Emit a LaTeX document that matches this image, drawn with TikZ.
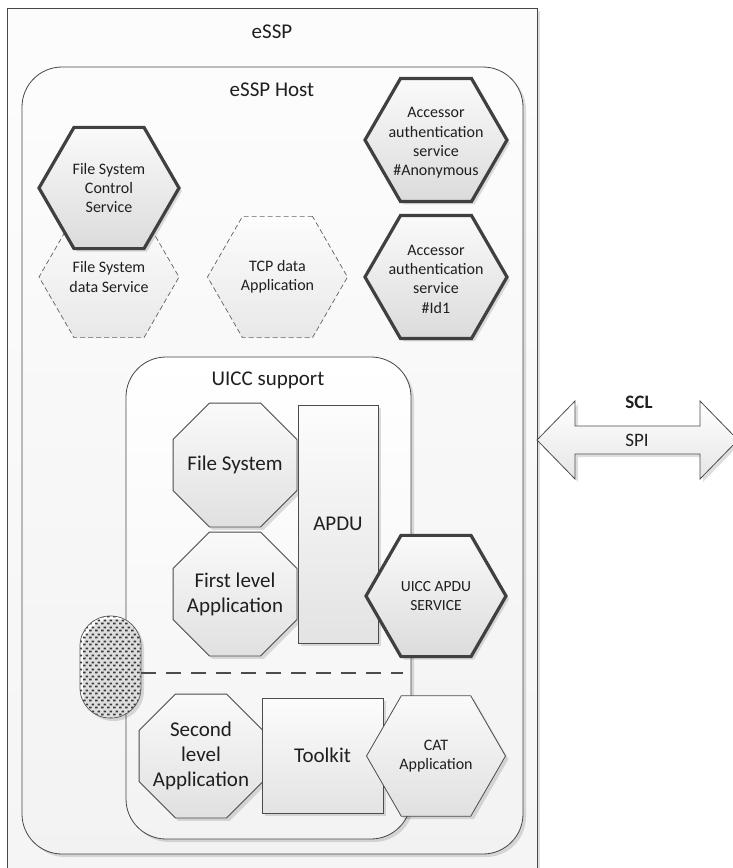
\documentclass[tikz,border=0pt]{standalone}
\usepackage{fontspec}
\setmainfont{Carlito}
\usetikzlibrary{shapes.geometric,shadows,patterns.meta}
\tikzdeclarepattern{
  name=capdots,
  type=uncolored,
  bounding box={(0pt,0pt) and (5.5pt,6.6pt)},
  tile size={(5.5pt,6.6pt)},
  code={
    \fill (0pt,0.6pt) rectangle (2.9pt,2.4pt);
    \fill (2.75pt,3.9pt) rectangle (5.5pt,5.7pt);
  }
}
\begin{document}
\begin{tikzpicture}[x=1pt,y=-1pt,
  every node/.style={inner sep=0pt,outer sep=0pt,text=black!88},
  shd/.style={drop shadow={shadow xshift=3pt,shadow yshift=-3pt,fill=black,opacity=0.13}},
  framebox/.style={rectangle,draw=black!72,line width=0.8pt,anchor=north west,shd},
  hexthick/.style={regular polygon,regular polygon sides=6,minimum size=140pt,draw=black!75,line width=3.2pt,top color=black!2,bottom color=black!14,shd},
  hexdash/.style={regular polygon,regular polygon sides=6,minimum size=140pt,draw=black!62,dash pattern=on 5pt off 3pt,line width=0.7pt,top color=black!1,bottom color=black!9},
  hexthin/.style={regular polygon,regular polygon sides=6,minimum size=139pt,draw=black!70,line width=0.8pt,top color=black!2,bottom color=black!12,shd},
  octbox/.style={regular polygon,regular polygon sides=8,minimum size=134pt,draw=black!70,line width=0.8pt,top color=black!2,bottom color=black!12,shd},
  rectbox/.style={rectangle,draw=black!70,line width=0.8pt,top color=black!1,bottom color=black!11,shd},
  big/.style={font=\fontsize{21}{25}\selectfont,align=center},
  small/.style={font=\fontsize{16}{19.3}\selectfont,align=center},
]
\useasboundingbox (0,0) rectangle (733,868);
% frames
\node[framebox,minimum width=530pt,minimum height=880pt,top color=black!1,bottom color=black!4] (essp) at (7,8) {};
\node[framebox,rounded corners=40pt,minimum width=501pt,minimum height=787pt,top color=black!1,bottom color=black!5] (host) at (22,67) {};
\node[big] (tessp) at (272,32) {eSSP};
\node[big] (thost) at (272,90) {eSSP Host};
% host services
\node[hexdash] (fsd) at (109,277) {};
\node[small] (tfsd) at (109,277) {File System\\data Service};
\node[hexthick] (fsc) at (109,188) {};
\node[small] (tfsc) at (109,188) {File System\\Control\\Service};
\node[hexdash] (tcp) at (277.5,277) {};
\node[small] (ttcp) at (277.5,277) {TCP data\\Application};
\node[hexthick,minimum size=142pt] (acc1) at (436,140) {};
\node[small] (tacc1) at (436,143) {Accessor\\authentication\\service\\\#Anonymous};
\node[hexthick,minimum size=142pt] (acc2) at (436,277) {};
\node[small] (tacc2) at (436,279) {Accessor\\authentication\\service\\\#Id1};
% UICC support
\node[framebox,rounded corners=40pt,minimum width=285pt,minimum height=482pt,top color=white,bottom color=black!5] (uicc) at (126,357) {};
\node[big] (tuicc) at (268,380) {UICC support};
\node[octbox] (fs) at (235,465) {};
\node[big] (tfs) at (235,465) {File System};
\node[octbox] (fla) at (235,594) {};
\node[big] (tfla) at (235,594) {First level\\Application};
\node[rectbox,minimum width=80pt,minimum height=238pt] (apdu) at (338,524) {};
\node[big] (tapdu) at (338,524) {APDU};
\node[hexthick] (uas) at (436,596) {};
\node[small,font=\fontsize{15.5}{18.5}\selectfont] (tuas) at (436,596) {UICC APDU\\SERVICE};
% separator and capsule
\node[rectangle,rounded corners=30pt,minimum width=61pt,minimum height=102pt,draw=black!65,line width=0.7pt,preaction={fill=white},pattern={capdots},pattern color=black!78,shd] (cap) at (110.5,667) {};
\coordinate (dend) at (403,673);
\draw[black!70,line width=2.6pt,dash pattern=on 15pt off 10pt] (cap.east |- dend) -- (dend);
% second level
\node[octbox] (sla) at (201,756) {};
\node[big] (tsla) at (201,756) {Second\\level\\Application};
\node[rectbox,minimum width=121pt,minimum height=115pt] (tk) at (322.5,755.5) {};
\node[big] (ttk) at (322.5,755.5) {Toolkit};
\node[hexthin] (cat) at (436,756) {};
\node[small] (tcat) at (436,756) {CAT\\Application};
% SCL arrow
\path[draw=black!70,line width=0.8pt,top color=white,bottom color=black!10,shd]
  (537,440) -- (575,401) -- (575,426) -- (700,426) -- (700,401) -- (738,440)
  -- (700,479) -- (700,454) -- (575,454) -- (575,479) -- cycle;
\node[font=\fontsize{19}{22}\selectfont\bfseries] (tscl) at (639,402) {SCL};
\node[font=\fontsize{19}{22}\selectfont] (tspi) at (637,440) {SPI};
\end{tikzpicture}
\end{document}
